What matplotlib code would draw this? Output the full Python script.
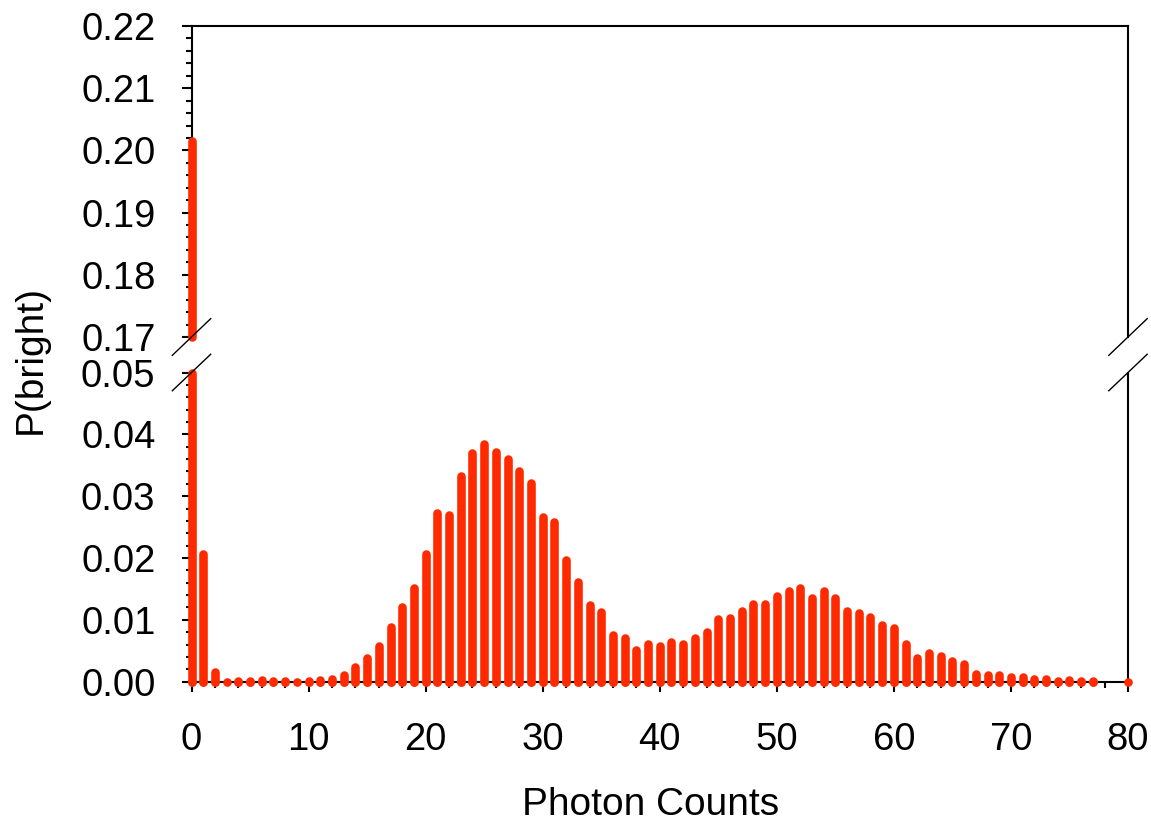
import numpy as np
import matplotlib
matplotlib.use('Agg')
import matplotlib.pyplot as plt
import matplotlib.ticker as ticker

plt.rcParams['font.family'] = ['Liberation Sans', 'DejaVu Sans']
plt.rcParams['font.size'] = 27.5

# ==========================================
# data: photon count histogram
# ==========================================
counts = np.arange(0, 81)
prob = np.array([
    0.2015, 0.0207, 0.0015, 0.0000, 0.0001, 0.0001, 0.0003, 0.0001, 0.0001, 0.0000,
    0.0001, 0.0003, 0.0005, 0.0011, 0.0024, 0.0039, 0.0057, 0.0089, 0.0120, 0.0151,
    0.0207, 0.0273, 0.0270, 0.0332, 0.0370, 0.0385, 0.0371, 0.0360, 0.0341, 0.0322,
    0.0266, 0.0258, 0.0197, 0.0161, 0.0124, 0.0113, 0.0076, 0.0071, 0.0051, 0.0061,
    0.0058, 0.0064, 0.0061, 0.0071, 0.0081, 0.0102, 0.0103, 0.0115, 0.0126, 0.0125,
    0.0138, 0.0146, 0.0151, 0.0136, 0.0146, 0.0136, 0.0115, 0.0111, 0.0104, 0.0092,
    0.0087, 0.0061, 0.0039, 0.0046, 0.0042, 0.0034, 0.0028, 0.0012, 0.0011, 0.0011,
    0.0007, 0.0007, 0.0004, 0.0004, 0.0001, 0.0002, 0.0001, 0.0001, np.nan, np.nan,
    0.0000,
])

low_range = (0.0, 0.05)
high_range = (0.17, 0.22)
bar_color = '#ff2a00'

# ==========================================
# figure with broken y axis
# ==========================================
fig = plt.figure(figsize=(11.51, 8.24), dpi=100)
ax_top = fig.add_axes([0.16638, 0.59102, 0.81364, 0.37743])
ax_bot = fig.add_axes([0.16638, 0.17269, 0.81364, 0.37524])

valid = ~np.isnan(prob)

# lower panel: every bar, cut at the top of the range
lc = ax_bot.vlines(counts[valid], low_range[0], np.clip(prob[valid], *low_range),
                   colors=bar_color, linewidth=6.2, zorder=3, clip_on=False)
lc.set_capstyle('round')
# zero-height bars still show the round end
ax_bot.plot(counts[valid], np.zeros(valid.sum()), 'o', color=bar_color, ms=6.2,
            mec='none', zorder=3, clip_on=False)

# upper panel: only bars reaching into the high range
hi = valid & (prob > high_range[0])
lc2 = ax_top.vlines(counts[hi], high_range[0], np.clip(prob[hi], *high_range),
                    colors=bar_color, linewidth=6.2, zorder=3, clip_on=False)
lc2.set_capstyle('round')

for ax, rng in ((ax_top, high_range), (ax_bot, low_range)):
    ax.set_xlim(0, 80)
    ax.set_ylim(*rng)
    for s in ax.spines.values():
        s.set_linewidth(1.5)
    ax.yaxis.set_major_locator(ticker.MultipleLocator(0.01))
    ax.yaxis.set_minor_locator(ticker.MultipleLocator(0.002))
    ax.yaxis.set_major_formatter(ticker.FormatStrFormatter('%.2f'))
    ax.tick_params(axis='y', which='major', direction='out', length=7, width=1.5, pad=19)
    ax.tick_params(axis='y', which='minor', direction='out', length=4.5, width=1.5)

ax_top.spines['bottom'].set_visible(False)
ax_top.tick_params(axis='x', which='both', bottom=False, labelbottom=False)
ax_bot.spines['top'].set_visible(False)

ax_bot.xaxis.set_major_locator(ticker.MultipleLocator(10))
ax_bot.xaxis.set_minor_locator(ticker.MultipleLocator(2))
ax_bot.tick_params(axis='x', which='major', direction='out', length=7, width=1.5, pad=22)
ax_bot.tick_params(axis='x', which='minor', direction='out', length=4.5, width=1.5)

# break marks on both sides
dx = 0.0205
for ax, y0, dy in ((ax_top, 0.0, 0.059), (ax_bot, 1.0, 0.059)):
    for x0 in (0.0, 1.0):
        ax.plot([x0 - dx, x0 + dx], [y0 - dy, y0 + dy], transform=ax.transAxes,
                color='black', lw=1.0, clip_on=False, zorder=5)

ax_bot.set_xlabel('Photon Counts', labelpad=21, fontsize=28, x=0.49)
fig.text(0.027, 1 - 360 / 824, 'P(bright)', rotation=90, ha='center', va='center',
         fontsize=28)

fig.savefig('out.png', dpi=100)
